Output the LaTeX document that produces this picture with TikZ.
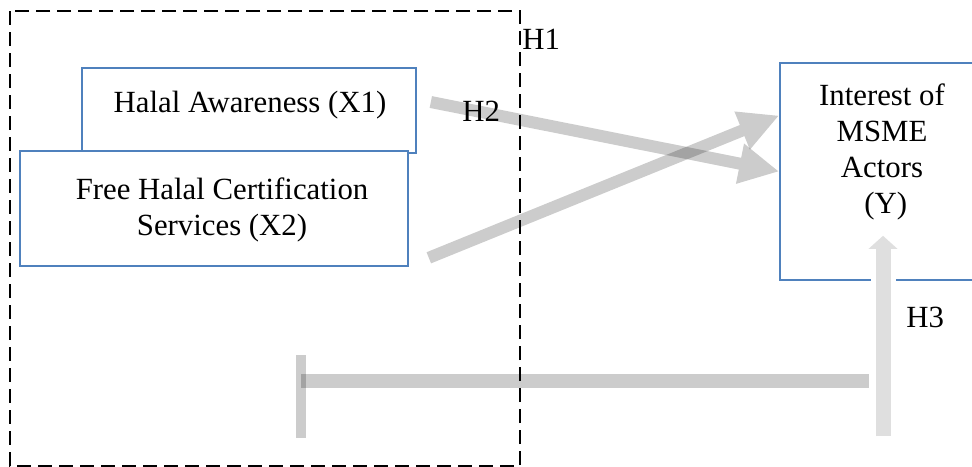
\documentclass[tikz,border=0pt]{standalone}
\usepackage{fontspec}
\setmainfont{LiberationSerif-Regular.ttf}[
  BoldFont=LiberationSerif-Bold.ttf,
  ItalicFont=LiberationSerif-Italic.ttf]
\usetikzlibrary{arrows.meta}
\usetikzlibrary{calc}
\usetikzlibrary{positioning}

\definecolor{boxblue}{HTML}{4F81BD}

\tikzset{
  varbox/.style={draw=boxblue, line width=0.8pt, fill=white, inner sep=0pt},
  hframe/.style={draw=black, line width=0.75pt, dash pattern=on 7pt off 3.5pt},
  hyparrow/.style={line width=6pt, draw=black,
    -{Triangle[length=20pt,width=19pt]}},
  hlabel/.style={anchor=base west, inner sep=0pt}
}

\begin{document}
\begin{tikzpicture}[x=0.5pt, y=-0.5pt, >=latex,
  every node/.append style={font=\fontsize{15.4}{18}\selectfont}]

  \useasboundingbox (0,0) rectangle (972,466);
  \clip (0,0) rectangle (972,466);

%%%%%%%%%%%% H1 frame
  \draw[hframe] (10,11) rectangle (520,466);
  \node[hlabel] (h1) at (522,49) {H1};

%%%%%%%%%%%% variables
  \node[varbox, minimum width=167pt, minimum height=42.5pt] (aware) at (249,110.5) {};
  \node[anchor=base] (awaretxt) at (250,112) {Halal Awareness (X1)};

  \node[varbox, minimum width=194pt, minimum height=57.5pt] (free) at (214,208.5) {};
  \node[align=center] (freetxt) at (222,210) {Free Halal Certification\\Services (X2)};

  \node[varbox, minimum width=103pt, minimum height=108.5pt] (yact) at (883,171.5) {};
  \node[align=center] (ytxt) at (882,152) {Interest of\\MSME\\Actors\\\ (Y)};

%%%%%%%%%%%% H2
  \begin{scope}[transparency group, opacity=0.2]
    \draw[hyparrow] ($(aware.east)+(14,-8.5)$) -- (yact.west);
  \end{scope}
  \begin{scope}[transparency group, opacity=0.2]
    \draw[hyparrow] ($(free.south east)+(20,-9)$) -- ($(yact.west)+(0,-56)$);
  \end{scope}
  \node[hlabel] (h2) at (462,121) {H2};

%%%%%%%%%%%% H3
  \coordinate (tickT) at (301,355);
  \coordinate (tickB) at (301,438);
  \coordinate (barL) at (301,381);
  \coordinate (barR) at (869,381);
  \coordinate (h3foot) at (883,436);
  \draw[line width=5pt, opacity=0.2] (tickT) -- (tickB);
  \draw[line width=7pt, opacity=0.2] (barL) -- (barR);
  \draw[white, line width=12.5pt] ($(yact.south)+(0,-4)$) -- ($(yact.south)+(0,4)$);
  \draw[line width=7.5pt, draw=gray!25, -{Triangle[length=6.5pt,width=14pt]}]
    (h3foot) -- ($(yact.south)+(0,-45)$);
  \node[hlabel] (h3) at (906,327) {H3};
\end{tikzpicture}
\end{document}
